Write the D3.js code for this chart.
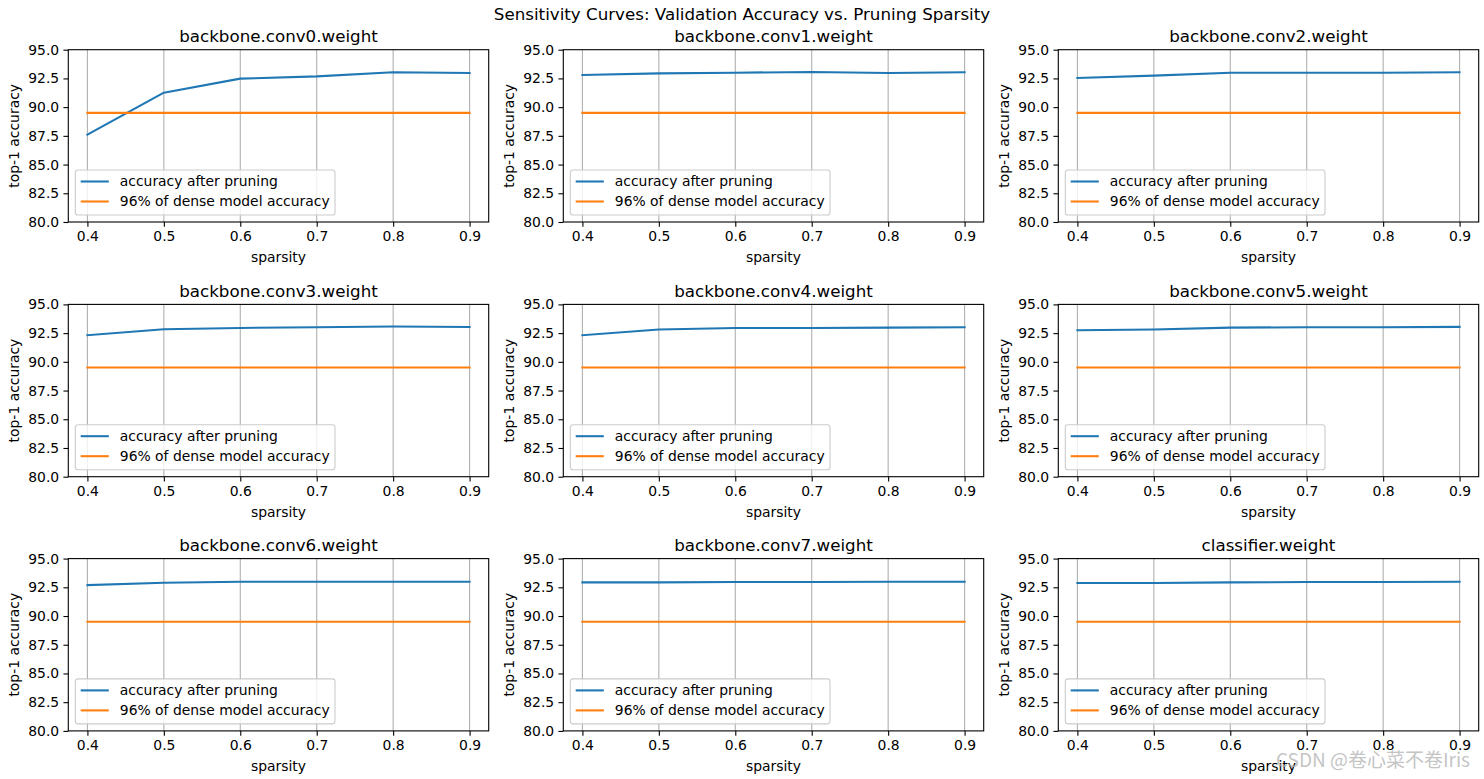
<!DOCTYPE html>
<html><head><meta charset="utf-8">
<script src="https://cdn.jsdelivr.net/npm/d3@7"></script>
<style>
html,body{margin:0;padding:0;background:#fff;}
svg{display:block;font-family:"DejaVu Sans",sans-serif;}
</style></head>
<body>
<svg id="c" width="1484" height="779"></svg>
<script>
const sparsities = [0.4, 0.5, 0.6, 0.7, 0.8, 0.9];
const layerNames = ["backbone.conv0.weight","backbone.conv1.weight","backbone.conv2.weight",
  "backbone.conv3.weight","backbone.conv4.weight","backbone.conv5.weight",
  "backbone.conv6.weight","backbone.conv7.weight","classifier.weight"];
const conv0 = [87.6, 91.26, 92.48, 92.68, 93.03, 92.97];
const conv1 = [92.8, 92.94, 93.0, 93.06, 92.97, 93.03];
const conv2 = [92.54, 92.74, 93.0, 93.0, 93.0, 93.03];
const conv3 = [92.32, 92.84, 92.95, 93.01, 93.07, 93.04];
const conv4 = [92.32, 92.81, 92.95, 92.95, 92.98, 93.01];
const conv5 = [92.75, 92.81, 92.98, 93.01, 93.01, 93.04];
const conv6 = [92.69, 92.9, 92.98, 92.98, 92.98, 92.98];
const conv7 = [92.93, 92.93, 92.96, 92.96, 92.99, 92.99];
const classifier = [92.87, 92.87, 92.93, 92.96, 92.96, 92.99];
const accuracySeries = [conv0, conv1, conv2, conv3, conv4, conv5, conv6, conv7, classifier];
const denseThreshold = 89.5;
const yTicks = [80.0, 82.5, 85.0, 87.5, 90.0, 92.5, 95.0];
const xTicks = [0.4, 0.5, 0.6, 0.7, 0.8, 0.9];
const legendLabels = ["accuracy after pruning", "96% of dense model accuracy"];
const suptitle = "Sensitivity Curves: Validation Accuracy vs. Pruning Sparsity";

const svg = d3.select("#c");
const colLeft = [68.3, 563.3, 1058.3], W = 420.4;
const rowTop = [49.7, 304.4, 558.6], H = 172.3;
const FS = 13.9, TFS = 16.7;
const blue = "#1f77b4", orange = "#ff7f0e";

svg.append("text").attr("x", 742).attr("y", 20).attr("text-anchor", "middle")
  .attr("font-size", TFS).attr("fill", "#000").text(suptitle);

layerNames.forEach((name, i) => {
  const r = Math.floor(i / 3), c = i % 3;
  const g = svg.append("g").attr("transform", `translate(${colLeft[c]},${rowTop[r]})`);
  const x = d3.scaleLinear().domain([0.375, 0.925]).range([0, W]);
  const y = d3.scaleLinear().domain([80, 95]).range([H, 0]);

  g.selectAll(".grid").data(xTicks).enter().append("line")
    .attr("x1", d => x(d)).attr("x2", d => x(d)).attr("y1", 0).attr("y2", H)
    .attr("stroke", "#b0b0b0").attr("stroke-width", 1.1);

  const line = d3.line().x((d, j) => x(sparsities[j])).y(d => y(d));
  g.append("path").datum(accuracySeries[i]).attr("d", line)
    .attr("fill", "none").attr("stroke", blue).attr("stroke-width", 2.08).attr("stroke-linejoin", "round").attr("stroke-linecap", "square");
  g.append("path").datum(sparsities.map(() => denseThreshold)).attr("d", line)
    .attr("fill", "none").attr("stroke", orange).attr("stroke-width", 2.08).attr("stroke-linecap", "square");

  const xa = g.append("g").attr("transform", `translate(0,${H})`)
    .call(d3.axisBottom(x).tickValues(xTicks).tickFormat(d3.format(".1f")).tickSize(4.86).tickPadding(4.3));
  const ya = g.append("g")
    .call(d3.axisLeft(y).tickValues(yTicks).tickFormat(d3.format(".1f")).tickSize(4.86).tickPadding(4.3));
  [xa, ya].forEach(a => {
    a.select(".domain").remove();
    a.selectAll("line").attr("stroke", "#000").attr("stroke-width", 1.1);
    a.selectAll("text").attr("font-size", FS).attr("fill", "#000").attr("font-family", "DejaVu Sans");
  });
  g.append("rect").attr("x", 0).attr("y", 0).attr("width", W).attr("height", H)
    .attr("fill", "none").attr("stroke", "#000").attr("stroke-width", 1.1);

  g.append("text").attr("x", W / 2).attr("y", -7.8).attr("text-anchor", "middle")
    .attr("font-size", TFS).attr("fill", "#000").text(name);
  g.append("text").attr("x", W / 2).attr("y", H + 40.5).attr("text-anchor", "middle")
    .attr("font-size", FS).attr("fill", "#000").text("sparsity");
  g.append("text").attr("transform", `translate(${-49},${H / 2}) rotate(-90)`).attr("text-anchor", "middle")
    .attr("font-size", FS).attr("fill", "#000").text("top-1 accuracy");

  const lg = g.append("g");
  const bx = 7, bw = 259.7, bh = 45, by = H - 7 - bh;
  lg.append("rect").attr("x", bx).attr("y", by).attr("width", bw).attr("height", bh)
    .attr("rx", 2.8).attr("fill", "#fff").attr("fill-opacity", 0.8)
    .attr("stroke", "#cccccc").attr("stroke-width", 1.1);
  [blue, orange].forEach((col, k) => {
    const cy = by + 11.5 + k * 20;
    lg.append("line").attr("x1", bx + 5.4).attr("x2", bx + 33.5).attr("y1", cy).attr("y2", cy)
      .attr("stroke", col).attr("stroke-width", 2.08);
    lg.append("text").attr("x", bx + 44.5).attr("y", cy + 5).attr("font-size", FS).attr("fill", "#000").text(legendLabels[k]);
  });
});

svg.append("text").attr("x", 1470).attr("y", 767).attr("text-anchor", "end")
  .attr("font-family", "Noto Sans CJK SC, DejaVu Sans").attr("font-size", 19)
  .attr("fill", "#b4b4b4").attr("fill-opacity", 0.8).text("CSDN @卷心菜不卷Iris");
</script>
</body></html>
